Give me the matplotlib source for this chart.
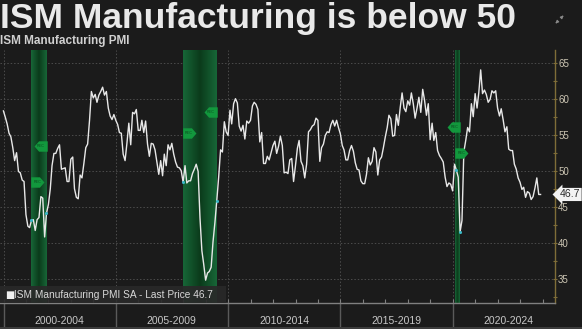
import matplotlib

matplotlib.use("Agg")
import matplotlib.dates as mdates
import matplotlib.pyplot as plt
import matplotlib.transforms as mtransforms
import numpy as np
import pandas as pd
from matplotlib.colors import LinearSegmentedColormap
from matplotlib.patches import Rectangle
from matplotlib.path import Path


# ISM Manufacturing PMI, monthly (month-end), Dec 1999 .. Nov 2023
START_MONTH = "1999-12-31"
pmi_1999 = [58.3]
pmi_2000_2004 = [
    57.4, 56.5, 55.2, 54.7, 53.2, 51.4, 52.5, 49.9, 49.7, 48.7, 48.5, 43.9,
    42.3, 42.1, 43.1, 43.2, 41.7, 43.2, 43.5, 46.4, 46.2, 40.8, 44.1, 45.3,
    47.5, 50.7, 52.4, 52.4, 53.1, 53.6, 50.2, 50.3, 50.4, 48.5, 48.5, 51.6,
    51.9, 47.5, 46.3, 46.1, 49.4, 49.0, 51.0, 53.2, 53.7, 57.0, 61.0, 60.1,
    60.6, 59.5, 60.5, 61.0, 61.6, 60.5, 61.0, 58.7, 57.6, 57.1, 57.8, 57.0,
]
pmi_2005_2009 = [
    56.4, 55.3, 55.2, 52.3, 51.4, 53.8, 56.6, 53.6, 58.1, 57.9, 58.5, 55.6,
    55.6, 57.0, 55.3, 56.9, 53.7, 52.0, 53.8, 53.7, 52.9, 51.2, 49.5, 51.4,
    49.3, 52.3, 50.7, 53.6, 52.9, 53.8, 52.3, 51.2, 50.5, 50.4, 50.0, 48.4,
    50.7, 48.3, 48.6, 48.6, 49.6, 50.2, 50.9, 49.9, 43.5, 38.9, 37.0, 34.8,
    35.8, 36.0, 36.6, 40.1, 42.8, 45.8, 49.1, 52.9, 52.6, 56.8, 55.4, 54.9,
]
pmi_2010_2014 = [
    58.4, 56.5, 59.3, 60.0, 59.4, 56.2, 55.5, 56.3, 54.4, 56.9, 56.6, 57.0,
    59.0, 59.5, 59.2, 58.5, 54.0, 55.3, 51.0, 51.0, 52.0, 51.5, 52.5, 53.5,
    54.1, 52.4, 53.4, 54.8, 53.5, 49.7, 49.8, 49.6, 51.5, 51.7, 48.5, 50.7,
    53.1, 54.2, 51.3, 50.7, 49.0, 50.9, 55.4, 55.7, 56.2, 56.4, 57.3, 57.0,
    51.3, 53.2, 53.7, 54.9, 55.4, 55.3, 56.4, 57.0, 56.2, 57.0, 56.0, 55.1,
]
pmi_2015_2019 = [
    53.5, 52.9, 51.5, 51.5, 52.8, 53.5, 52.7, 51.1, 50.2, 50.1, 48.6, 48.2,
    48.2, 49.5, 51.8, 50.8, 51.3, 53.2, 52.6, 49.4, 51.5, 51.9, 53.2, 54.7,
    56.0, 57.7, 57.2, 54.8, 54.9, 57.8, 56.3, 58.8, 60.8, 58.7, 58.2, 59.7,
    59.1, 60.8, 59.3, 57.3, 58.7, 60.2, 58.1, 61.3, 59.8, 57.7, 59.3, 54.3,
    56.6, 54.2, 55.3, 52.8, 52.1, 51.7, 51.2, 49.1, 47.8, 48.3, 48.1, 47.2,
]
pmi_2020_2023 = [
    50.9, 50.1, 49.1, 41.5, 43.1, 52.6, 54.2, 56.0, 55.4, 59.3, 57.5, 60.7,
    58.7, 60.8, 64.0, 60.7, 61.2, 60.6, 59.5, 59.9, 61.1, 60.8, 61.1, 58.7,
    57.6, 58.6, 57.1, 55.4, 56.1, 53.0, 52.8, 52.8, 50.9, 50.2, 49.0, 48.4,
    47.4, 47.7, 46.3, 47.1, 46.9, 46.0, 46.4, 47.6, 49.0, 46.7, 46.7,
]
LAST_PRICE = 46.7

# US recessions (shaded) and REC tag levels
rec_start = ["2001-03-31", "2007-12-31", "2020-02-15"]
rec_end = ["2001-11-30", "2009-06-30", "2020-04-30"]
rec_start_tag = [48.5, 55.3, 52.4]
rec_end_tag = [53.4, 58.2, 56.1]
dot_dates = ["2001-03-31", "2001-11-30", "2007-12-31", "2009-06-30",
             "2020-02-29", "2020-04-30"]

period_labels = ["2000-2004", "2005-2009", "2010-2014", "2015-2019", "2020-2024"]
period_starts = [2000, 2005, 2010, 2015, 2020]

BG = "#1b1b1b"
GRID = "#4c4c4c"
LINE = "#e8e8e8"
GOLD = "#7f6d38"
GREEN = "#12983d"
FONT = ["Liberation Sans", "DejaVu Sans"]

band_cmap = LinearSegmentedColormap.from_list("band", ["#0b3b1b", "#176637"])

TAG_RIGHT = Path([(-0.9, 0.75), (0.35, 0.75), (1.0, 0.0), (0.35, -0.75),
                  (-0.9, -0.75), (-0.9, 0.75)])
TAG_LEFT = Path([(0.9, 0.75), (-0.35, 0.75), (-1.0, 0.0), (-0.35, -0.75),
                 (0.9, -0.75), (0.9, 0.75)])


def main() -> None:
    values = np.array(pmi_1999 + pmi_2000_2004 + pmi_2005_2009
                      + pmi_2010_2014 + pmi_2015_2019 + pmi_2020_2023)
    dates = pd.date_range(START_MONTH, periods=len(values), freq="ME")
    series = pd.Series(values, index=dates)

    fig = plt.figure(figsize=(5.82, 3.29), dpi=100, facecolor=BG)
    ax = fig.add_axes([0.0, 0.0799, 0.9529, 0.7681], facecolor=BG)

    ymin, ymax = 31.67, 66.76
    gradient = np.abs(np.linspace(-1, 1, 41))[None, :]

    # recession bands (lighter at the edges)
    for s, e in zip(rec_start, rec_end):
        x0 = mdates.date2num(pd.Timestamp(s))
        x1 = mdates.date2num(pd.Timestamp(e))
        ax.imshow(gradient, cmap=band_cmap, aspect="auto", zorder=1,
                  extent=[x0, x1, ymin, ymax], interpolation="bilinear")

    ax.plot(series.index, series.values, color=LINE, lw=1.0, zorder=3)

    # cyan markers where the line meets recession boundaries
    marks = series.asof(pd.DatetimeIndex(dot_dates))
    ax.scatter(marks.index, marks.values, s=5, color="#3ab7c6", zorder=4, lw=0)

    # REC tags
    shift = pd.Timedelta(days=95)
    for s, e, ys, ye in zip(rec_start, rec_end, rec_start_tag, rec_end_tag):
        xs = pd.Timestamp(s) + shift
        xe = pd.Timestamp(e) - shift
        ax.plot([xs], [ys], marker=TAG_RIGHT, ms=10, color=GREEN, mew=0,
                zorder=5)
        ax.plot([xe], [ye], marker=TAG_LEFT, ms=10, color=GREEN, mew=0,
                zorder=5)
        ax.text(xs, ys, "REC", ha="center", va="center", fontsize=2.7,
                color="#0a4a1e", zorder=6, family=FONT)
        ax.text(xe, ye, "REC", ha="center", va="center", fontsize=2.7,
                color="#0a4a1e", zorder=6, family=FONT)

    ax.set_xlim(pd.Timestamp("1999-11-05"), pd.Timestamp("2024-07-15"))
    ax.set_ylim(ymin, ymax)

    # grid
    for y in range(35, 70, 5):
        ax.axhline(y, color=GRID, lw=0.7, ls=(0, (1.5, 2)), zorder=0)
    for yr in period_starts:
        ax.axvline(pd.Timestamp(f"{yr}-01-01"), color=GRID, lw=0.7,
                   ls=(0, (1.5, 2)), zorder=0)

    # right axis
    ax.yaxis.tick_right()
    ax.set_yticks(range(35, 70, 5))
    ax.set_yticks(np.arange(32.5, 66, 5), minor=True)
    ax.tick_params(axis="y", which="both", colors=GOLD, length=3, width=0.8,
                   direction="inout", labelsize=7, labelcolor="#cdc6b4", pad=1)
    for lab in ax.get_yticklabels():
        lab.set_family(FONT)
    for sp in ["left", "top"]:
        ax.spines[sp].set_visible(False)
    ax.spines["right"].set_color(GOLD)
    ax.spines["right"].set_linewidth(1.0)
    ax.spines["bottom"].set_color("#808080")
    ax.spines["bottom"].set_linewidth(1.0)

    # bottom axis: yearly ticks, 5-year period labels
    ax.xaxis.set_major_locator(mdates.YearLocator(1))
    ax.set_xticklabels([])
    ax.tick_params(axis="x", which="both", colors="#808080", length=3,
                   direction="in", width=0.8)
    trans = mtransforms.blended_transform_factory(ax.transData, ax.transAxes)
    for yr, lab in zip(period_starts, period_labels):
        x0 = pd.Timestamp(f"{yr}-01-01")
        ax.plot([x0, x0], [0, -0.096], transform=trans, color="#5a5a5a",
                lw=1.0, clip_on=False)
        ax.text(pd.Timestamp(f"{yr + 2}-07-01"), -0.0704, lab, transform=trans,
                ha="center", va="center", fontsize=7.5, color="#c8c8c8",
                family=FONT)

    # last price tag
    ytr = mtransforms.blended_transform_factory(ax.transAxes, ax.transData)
    ax.text(1.009, LAST_PRICE, f"{LAST_PRICE}", transform=ytr, ha="left",
            va="center", fontsize=7.6, color="#2a2a2a", zorder=6, family=FONT,
            bbox=dict(boxstyle="larrow,pad=0.15", fc="#f2f2f2", ec="none"))

    # legend box
    ax.add_patch(Rectangle((0, 0.0), 0.408, 0.068, transform=ax.transAxes,
                           fc="#292929", ec="none", alpha=0.92, zorder=5))
    ax.text(0.0095, 0.032, "■", transform=ax.transAxes, ha="left", va="center",
            fontsize=7, color="#f0f0f0", zorder=6, family=["DejaVu Sans"])
    ax.text(0.0255, 0.032, f"ISM Manufacturing PMI SA - Last Price {LAST_PRICE}",
            transform=ax.transAxes, ha="left", va="center", fontsize=7.3,
            color="#d8d8d8", zorder=6, family=FONT)

    # titles
    fig.text(0.0, 1 - 28.3 / 329, "ISM Manufacturing is below 50", ha="left",
             va="baseline", fontsize=25.5, fontweight="bold", color="#e9e9e9",
             family=FONT)
    fig.text(0.0, 1 - 44 / 329, "ISM Manufacturing PMI", ha="left",
             va="baseline", fontsize=8.5, fontweight="bold", color="#d0d0d0",
             family=FONT)

    # expand icon (two diagonal arrows)
    arrow = dict(arrowstyle="-|>", color="#8a8a8a", lw=0.8, mutation_scale=4)
    fig.add_artist(plt.Annotation("", xy=(565.5 / 582, 1 - 13.5 / 329),
                                  xytext=(560.5 / 582, 1 - 18.5 / 329),
                                  xycoords="figure fraction", arrowprops=arrow))
    fig.add_artist(plt.Annotation("", xy=(553.5 / 582, 1 - 25.5 / 329),
                                  xytext=(558.5 / 582, 1 - 20.5 / 329),
                                  xycoords="figure fraction", arrowprops=arrow))

    # bottom frame line
    fig.add_artist(Rectangle((0, 0), 1, 2.5 / 329, transform=fig.transFigure,
                             fc="#3c3c3c", ec="none"))

    fig.savefig("out.png", dpi=100, facecolor=BG)
    plt.close(fig)


if __name__ == "__main__":
    main()
